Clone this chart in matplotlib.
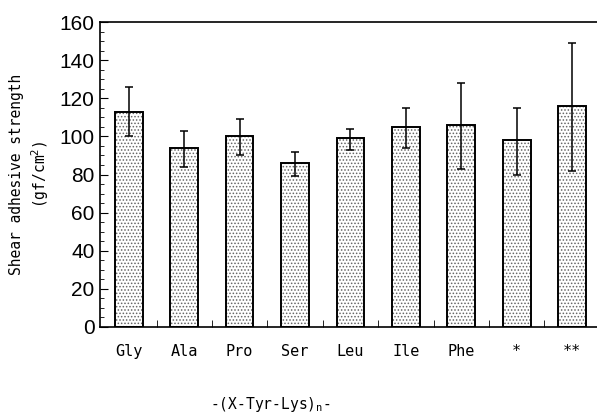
import numpy as np
import matplotlib
matplotlib.use('Agg')
import matplotlib.pyplot as plt
from matplotlib.ticker import MultipleLocator

categories = ['Gly', 'Ala', 'Pro', 'Ser', 'Leu', 'Ile', 'Phe', '*', '**']
strength = [113, 94, 100, 86, 99, 105, 106, 98, 116]
err_low = [13, 10, 10, 7, 6, 11, 23, 18, 34]
err_high = [13, 9, 9, 6, 5, 10, 22, 17, 33]

plt.rcParams['hatch.linewidth'] = 0.7

fig = plt.figure(figsize=(5.97, 4.13), dpi=100)
ax = fig.add_axes([100 / 597, 1 - 327 / 413, 1 - 100 / 597, (327 - 22) / 413])

x = np.arange(len(categories))
# dotted fill in grey, then black outline on top
ax.bar(x, strength, width=0.5, color='white', edgecolor='#666666', linewidth=0,
       hatch='.....', zorder=2)
ax.bar(x, strength, width=0.5, fill=False, edgecolor='black', linewidth=1.4, zorder=2)
ax.errorbar(x, strength, yerr=[err_low, err_high], fmt='none', ecolor='black',
            elinewidth=1.1, capsize=3, capthick=1.1, zorder=3)

ax.set_xlim(-0.52, 8.45)
ax.set_ylim(0, 160)
ax.spines['right'].set_visible(False)
for s in ['left', 'top', 'bottom']:
    ax.spines[s].set_linewidth(1.2)

ax.yaxis.set_major_locator(MultipleLocator(20))
ax.yaxis.set_minor_locator(MultipleLocator(5))
ax.tick_params(axis='y', which='major', direction='in', length=6, labelsize=15, pad=4)
ax.tick_params(axis='y', which='minor', direction='in', length=3)
for lab in ax.get_yticklabels():
    lab.set_family('Liberation Sans')

ax.set_xticks(x)
ax.set_xticklabels(categories, family='DejaVu Sans Mono', fontsize=11)
ax.set_xticks(x[:-1] + 0.5, minor=True)
ax.tick_params(axis='x', which='major', length=0, pad=12)
ax.tick_params(axis='x', which='minor', direction='in', length=5)

ax.set_ylabel('Shear adhesive strength\n(gf/cm$^2$)', family='DejaVu Sans Mono',
              fontsize=10.5, labelpad=6, linespacing=1.3)

fig.text(270 / 597, 1 - 405 / 413, '-(X-Tyr-Lys)$_\\mathregular{n}$-', ha='center', va='center',
         family='DejaVu Sans Mono', fontsize=10.5)

fig.savefig('out.png', dpi=100)
